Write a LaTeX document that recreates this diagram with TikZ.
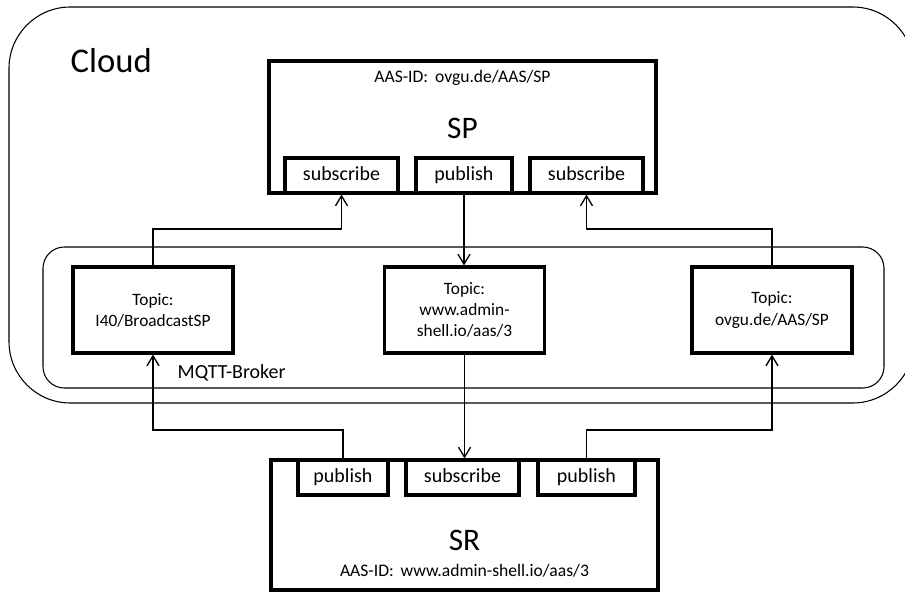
\documentclass[tikz,border=0pt]{standalone}
\usepackage{fontspec}
\setmainfont{Carlito}
\usetikzlibrary{arrows.meta, positioning, calc}

\begin{document}
\begin{tikzpicture}[x=0.75pt, y=-0.75pt,
    box/.style={draw, line width=2.3pt, fill=white, inner sep=0pt},
    port/.style={box, minimum height=26.25pt, text height=0.85em, text depth=0.1em, font=\fontsize{15}{18}\selectfont},
    topic/.style={box, minimum width=120pt, minimum height=64.5pt, align=center, font=\fontsize{13}{15.8}\selectfont},
    arr/.style={line width=1pt, -{Straight Barb[length=7.5pt, width=9pt, line width=1pt]}},
    idtext/.style={font=\fontsize{13.2}{16}\selectfont, anchor=base},
    bigtext/.style={font=\fontsize{23.5}{28}\selectfont, anchor=base}]
    \clip (0,0) rectangle (905,592);

    % Cloud
    \draw[line width=0.8pt, rounded corners=46pt] (9,7) rectangle (914,403);
    \node[anchor=base west, font=\fontsize{26}{31}\selectfont] (cloud) at (66,73) {Cloud};

    % SP
    \node[box, minimum width=290.25pt, minimum height=99pt] (sp) at (462.5,127) {};
    \node[idtext] (spid) at (462.5,82) {AAS-ID:\,\ ovgu.de/AAS/SP};
    \node[bigtext] (sptitle) at (462.5,138) {SP};
    \node[port, minimum width=84.75pt] (spsub1) at (341.5,175.5) {subscribe};
    \node[port, minimum width=72pt] (sppub) at (464,175.5) {publish};
    \node[port, minimum width=84.75pt] (spsub2) at (586.5,175.5) {subscribe};

    % MQTT-Broker
    \draw[line width=0.8pt, rounded corners=16pt] (43,247) rectangle (884,388);
    \node[anchor=base west, font=\fontsize{15}{18}\selectfont] (broker) at (173,378) {MQTT-Broker};
    \node[topic] (tleft) at (153,310) {Topic:\\I40/BroadcastSP};
    \node[topic] (tmid) at (464.5,310) {Topic:\\www.admin-\\shell.io/aas/3};
    \node[topic] (tright) at (772,310) {Topic:\\ovgu.de/AAS/SP};

    % SR
    \node[box, minimum width=290.25pt, minimum height=97.5pt] (sr) at (464.5,525) {};
    \node[port, minimum width=67.5pt] (srpub1) at (343,477.5) {publish};
    \node[port, minimum width=84.75pt] (srsub) at (462.5,477.5) {subscribe};
    \node[port, minimum width=72.75pt] (srpub2) at (586.5,477.5) {publish};
    \node[bigtext] (srtitle) at (464.5,550) {SR};
    \node[idtext] (srid) at (464.5,576) {AAS-ID:\,\ www.admin-shell.io/aas/3};

    % Verbindungen
    \coordinate (uplevel) at (0,229);
    \coordinate (downlevel) at (0,430);
    \draw[arr] (tleft.north) -- (tleft.north |- uplevel) -| (spsub1.south);
    \draw[arr] (sppub.south) -- (sppub.south |- tmid.north);
    \draw[arr] (tright.north) -- (tright.north |- uplevel) -| (spsub2.south);
    \draw[arr] (tmid.south) -- (tmid.south |- srsub.north);
    \draw[arr] (srpub1.north) -- (srpub1.north |- downlevel) -| (tleft.south);
    \draw[arr] (srpub2.north) -- (srpub2.north |- downlevel) -| (tright.south);
\end{tikzpicture}
\end{document}
